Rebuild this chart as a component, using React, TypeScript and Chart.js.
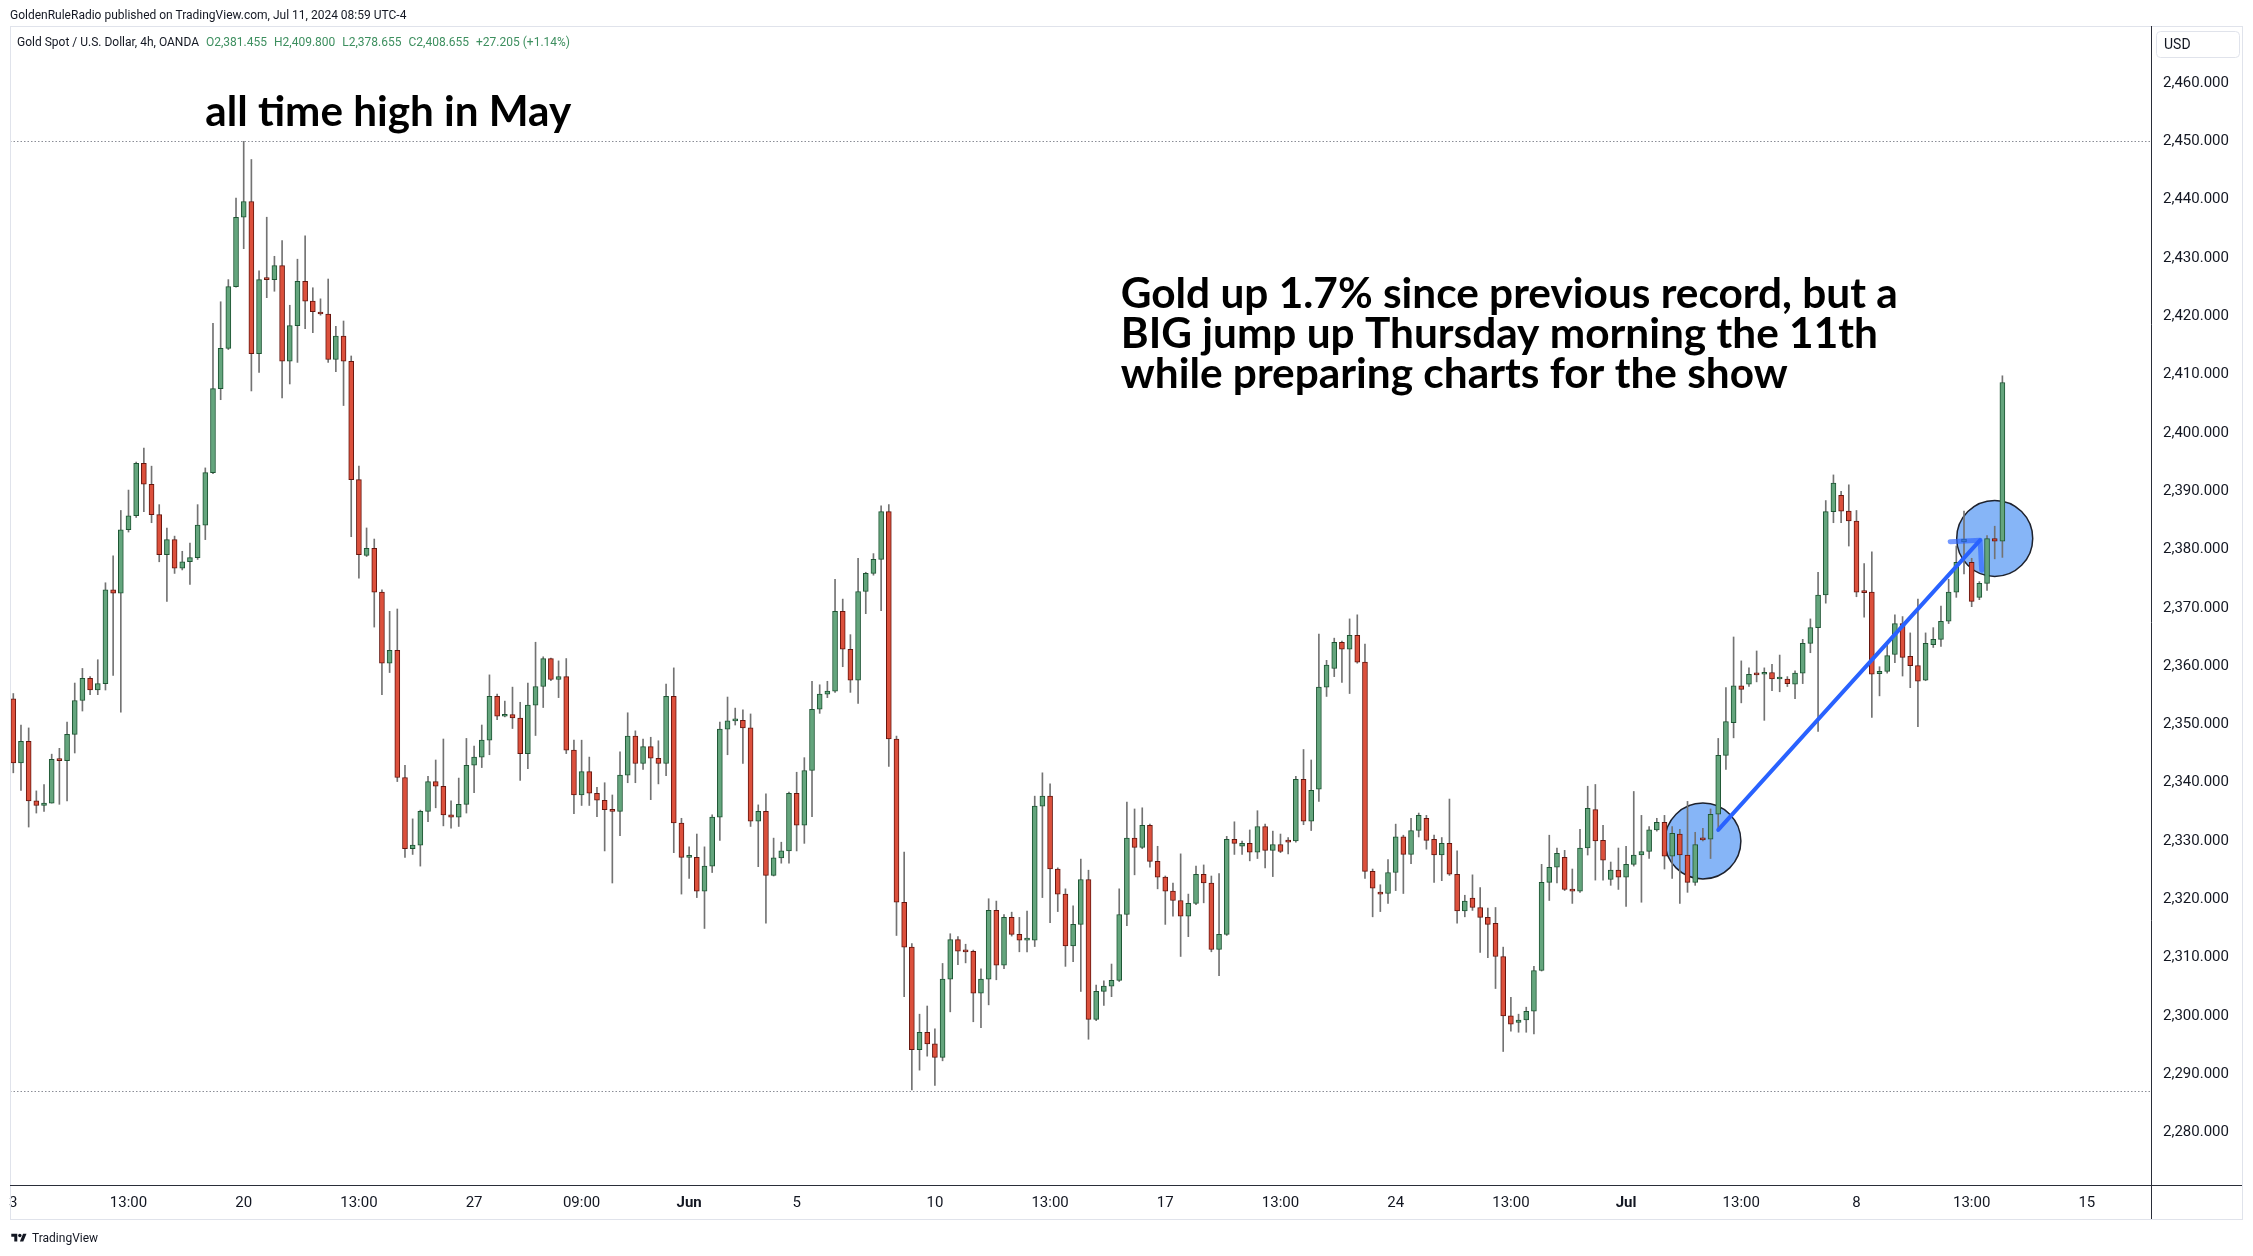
import React, { useEffect, useRef } from 'react';
import Chart from 'chart.js/auto';

// ---- Data (Gold Spot / USD, 4h, OANDA) ----
const OPEN = [
  2354.4, 2343.4, 2347.1, 2336.9, 2336.1, 2336.5, 2344.0, 2343.8, 2348.3, 2354.1,
  2357.9, 2355.9, 2357.0, 2373.1, 2372.5, 2383.4, 2385.8, 2394.8, 2391.2, 2386.0,
  2379.1, 2381.7, 2376.8, 2377.9, 2378.6, 2384.2, 2393.2, 2407.6, 2414.5, 2425.1,
  2437.0, 2439.7, 2413.6, 2426.4, 2426.3, 2428.7, 2412.3, 2418.4, 2426.0, 2422.6,
  2420.7, 2420.4, 2412.6, 2416.6, 2412.3, 2392.0, 2379.0, 2380.2, 2372.7, 2360.5,
  2362.7, 2340.9, 2328.7, 2329.3, 2335.1, 2340.2, 2339.4, 2334.5, 2334.1, 2336.3,
  2343.0, 2344.4, 2347.3, 2354.8, 2351.4, 2351.7, 2351.1, 2345.0, 2353.3, 2356.5,
  2361.3, 2357.7, 2358.2, 2345.6, 2337.9, 2341.9, 2338.2, 2337.0, 2335.4, 2335.1,
  2341.3, 2348.0, 2343.3, 2346.2, 2344.2, 2343.3, 2354.8, 2333.1, 2327.2, 2327.2,
  2321.4, 2325.7, 2334.1, 2349.2, 2350.6, 2350.7, 2349.4, 2333.4, 2335.1, 2324.1,
  2327.1, 2328.3, 2338.2, 2332.7, 2342.1, 2352.6, 2355.2, 2355.7, 2369.4, 2362.9,
  2357.6, 2372.8, 2375.9, 2378.3, 2386.5, 2347.5, 2319.5, 2311.8, 2294.2, 2297.2,
  2295.2, 2292.9, 2306.3, 2313.1, 2311.1, 2311.1, 2303.9, 2306.3, 2318.1, 2308.7,
  2316.9, 2314.0, 2313.0, 2313.0, 2336.0, 2337.7, 2325.2, 2320.9, 2312.0, 2315.7,
  2323.4, 2299.4, 2304.2, 2305.1, 2306.1, 2317.4, 2330.5, 2328.9, 2332.7, 2326.5,
  2323.8, 2321.4, 2319.8, 2317.1, 2319.3, 2324.3, 2322.8, 2311.4, 2314.0, 2330.3,
  2329.1, 2329.6, 2328.1, 2332.5, 2328.4, 2329.4, 2330.1, 2330.0, 2340.6, 2333.4,
  2338.9, 2356.4, 2359.6, 2364.1, 2362.9, 2365.3, 2360.7, 2324.8, 2321.0, 2321.0,
  2324.6, 2330.7, 2327.7, 2331.8, 2333.9, 2330.3, 2327.6, 2329.6, 2324.3, 2318.0,
  2320.2, 2318.6, 2316.9, 2315.9, 2310.2, 2300.0, 2298.9, 2299.3, 2300.8, 2307.8,
  2322.9, 2325.5, 2327.2, 2321.7, 2321.4, 2328.8, 2335.4, 2330.1, 2323.4, 2325.0,
  2323.8, 2326.0, 2327.6, 2328.2, 2331.9, 2333.2, 2327.4, 2331.2, 2327.6, 2322.9,
  2330.3, 2330.3, 2334.6, 2344.7, 2350.3, 2356.6, 2356.9, 2358.6, 2358.6, 2358.9,
  2357.8, 2357.8, 2356.9, 2358.8, 2363.9, 2366.6, 2372.2, 2386.5, 2389.3, 2386.6,
  2384.9, 2372.7, 2372.7, 2358.7, 2359.1, 2362.0, 2367.3, 2361.7, 2360.1, 2357.6,
  2363.7, 2364.6, 2367.7, 2372.7, 2381.3, 2377.8, 2371.8, 2374.2, 2381.9, 2381.455,
];
const HIGH = [
  2355.3, 2349.9, 2349.4, 2338.6, 2339.7, 2344.9, 2345.9, 2350.4, 2357.1, 2359.6,
  2358.2, 2361.1, 2374.3, 2378.9, 2386.7, 2390.2, 2395.0, 2397.4, 2394.3, 2387.7,
  2383.7, 2382.3, 2379.7, 2381.1, 2387.7, 2394.0, 2418.8, 2422.5, 2426.3, 2440.3,
  2450.0, 2446.9, 2427.8, 2437.0, 2430.3, 2433.0, 2421.9, 2429.8, 2433.8, 2424.9,
  2423.0, 2426.4, 2418.3, 2419.2, 2413.2, 2394.3, 2383.7, 2381.8, 2373.1, 2369.4,
  2369.8, 2343.0, 2333.8, 2335.3, 2341.1, 2343.9, 2347.5, 2336.9, 2340.8, 2347.6,
  2346.3, 2349.9, 2358.5, 2355.2, 2354.0, 2356.4, 2353.8, 2357.1, 2364.1, 2361.6,
  2361.4, 2360.9, 2361.3, 2347.3, 2347.3, 2344.4, 2339.2, 2340.0, 2337.9, 2345.3,
  2352.0, 2348.9, 2347.5, 2347.8, 2347.2, 2356.9, 2359.7, 2333.9, 2329.0, 2331.2,
  2329.0, 2334.5, 2350.4, 2354.7, 2352.8, 2352.5, 2351.8, 2336.2, 2338.1, 2330.5,
  2329.8, 2338.4, 2341.8, 2344.3, 2357.4, 2356.8, 2357.4, 2374.9, 2371.5, 2365.4,
  2378.5, 2376.1, 2379.3, 2387.5, 2387.7, 2348.0, 2328.1, 2312.4, 2300.3, 2301.7,
  2297.8, 2309.0, 2314.1, 2313.6, 2312.3, 2311.3, 2308.1, 2320.1, 2319.7, 2317.4,
  2317.8, 2316.9, 2318.0, 2337.7, 2341.7, 2339.8, 2325.4, 2321.8, 2318.9, 2326.9,
  2325.0, 2305.3, 2306.0, 2308.9, 2321.8, 2336.7, 2335.5, 2335.7, 2332.9, 2329.1,
  2324.0, 2322.8, 2327.8, 2320.9, 2325.7, 2325.9, 2324.0, 2324.4, 2330.8, 2333.3,
  2330.0, 2331.9, 2335.2, 2332.9, 2331.7, 2331.2, 2330.6, 2341.1, 2345.7, 2343.9,
  2365.5, 2361.0, 2364.8, 2364.3, 2368.1, 2368.8, 2363.8, 2325.2, 2322.5, 2326.8,
  2332.9, 2331.0, 2333.9, 2334.8, 2334.4, 2331.0, 2330.6, 2337.2, 2328.3, 2320.7,
  2324.2, 2322.0, 2318.5, 2318.6, 2311.8, 2303.2, 2300.3, 2301.5, 2308.5, 2326.0,
  2331.0, 2328.8, 2328.4, 2325.2, 2332.0, 2339.4, 2339.7, 2332.7, 2326.4, 2328.8,
  2329.1, 2338.5, 2334.4, 2332.5, 2333.9, 2334.4, 2332.5, 2332.0, 2336.8, 2331.5,
  2332.2, 2335.5, 2347.6, 2356.3, 2365.0, 2360.9, 2359.7, 2362.6, 2359.7, 2360.3,
  2361.9, 2358.2, 2359.2, 2364.6, 2368.1, 2376.1, 2388.4, 2392.8, 2390.0, 2391.1,
  2386.7, 2377.6, 2379.6, 2359.9, 2363.8, 2368.8, 2368.5, 2365.7, 2371.5, 2365.7,
  2366.6, 2370.3, 2374.9, 2380.6, 2386.6, 2378.5, 2374.5, 2382.4, 2384.0, 2409.8,
];
const LOW = [
  2341.7, 2338.7, 2332.4, 2334.8, 2335.1, 2336.5, 2336.3, 2336.9, 2345.1, 2352.3,
  2355.1, 2355.1, 2355.9, 2358.4, 2352.1, 2383.0, 2385.5, 2386.5, 2384.6, 2377.9,
  2371.1, 2375.9, 2376.5, 2374.0, 2378.3, 2381.7, 2393.0, 2405.7, 2414.3, 2425.0,
  2431.6, 2407.2, 2410.4, 2423.2, 2424.3, 2406.0, 2408.4, 2412.1, 2417.9, 2417.2,
  2420.2, 2412.1, 2410.5, 2404.7, 2382.2, 2375.1, 2378.8, 2366.7, 2355.1, 2358.9,
  2340.2, 2327.2, 2327.7, 2325.7, 2333.3, 2335.7, 2332.6, 2332.2, 2332.5, 2334.8,
  2338.3, 2342.6, 2344.8, 2350.8, 2351.3, 2349.3, 2340.4, 2342.4, 2348.1, 2352.9,
  2357.5, 2354.6, 2345.0, 2334.7, 2336.1, 2336.1, 2334.2, 2328.3, 2322.8, 2330.9,
  2340.0, 2340.0, 2342.3, 2337.1, 2339.8, 2341.2, 2328.0, 2320.9, 2323.6, 2320.3,
  2315.0, 2324.6, 2330.1, 2344.8, 2349.9, 2343.3, 2332.5, 2325.6, 2315.9, 2324.0,
  2326.2, 2326.2, 2328.3, 2329.6, 2334.2, 2351.9, 2354.6, 2355.5, 2359.9, 2355.5,
  2353.6, 2369.0, 2375.6, 2369.5, 2342.8, 2313.8, 2303.3, 2287.3, 2290.7, 2293.1,
  2288.1, 2292.3, 2300.7, 2308.8, 2309.1, 2299.0, 2298.0, 2301.9, 2306.2, 2308.1,
  2313.7, 2311.0, 2311.0, 2311.9, 2320.3, 2316.0, 2317.9, 2308.5, 2309.3, 2304.2,
  2296.0, 2299.2, 2301.8, 2303.3, 2305.9, 2315.5, 2324.2, 2328.7, 2325.5, 2321.8,
  2315.7, 2317.1, 2310.2, 2313.6, 2319.1, 2319.4, 2311.0, 2306.9, 2313.8, 2327.7,
  2327.7, 2326.6, 2327.0, 2325.4, 2323.9, 2328.0, 2327.8, 2329.8, 2332.8, 2331.8,
  2336.8, 2354.8, 2358.2, 2357.2, 2355.3, 2360.5, 2323.6, 2317.0, 2317.9, 2319.3,
  2321.5, 2321.0, 2326.1, 2330.7, 2328.6, 2322.9, 2323.2, 2324.1, 2315.9, 2317.0,
  2318.1, 2310.9, 2310.0, 2304.7, 2293.9, 2297.4, 2297.2, 2297.2, 2296.9, 2307.7,
  2319.8, 2322.8, 2321.5, 2319.3, 2321.2, 2327.6, 2323.3, 2323.3, 2322.4, 2321.7,
  2318.8, 2325.7, 2319.5, 2327.0, 2331.7, 2325.2, 2323.6, 2319.3, 2321.2, 2322.4,
  2330.0, 2327.0, 2331.9, 2342.3, 2347.7, 2353.7, 2356.5, 2357.3, 2350.7, 2355.8,
  2355.6, 2356.5, 2354.4, 2357.0, 2362.3, 2348.8, 2370.8, 2384.6, 2384.6, 2380.6,
  2371.9, 2368.4, 2351.2, 2354.9, 2358.8, 2360.6, 2358.3, 2356.3, 2349.6, 2357.5,
  2363.2, 2363.4, 2367.3, 2371.8, 2375.8, 2370.2, 2371.4, 2373.0, 2378.4, 2378.655,
];
const CLOSE = [
  2343.4, 2347.1, 2336.9, 2336.1, 2336.5, 2344.0, 2343.8, 2348.3, 2354.1, 2357.9,
  2355.9, 2357.0, 2373.1, 2372.5, 2383.4, 2385.8, 2394.8, 2391.2, 2386.0, 2379.1,
  2381.7, 2376.8, 2377.9, 2378.6, 2384.2, 2393.2, 2407.6, 2414.5, 2425.1, 2437.0,
  2439.7, 2413.6, 2426.3, 2426.3, 2428.7, 2412.3, 2418.4, 2426.0, 2422.6, 2420.8,
  2420.4, 2412.6, 2416.6, 2412.3, 2392.0, 2379.1, 2380.2, 2372.7, 2360.5, 2362.7,
  2340.9, 2328.7, 2329.3, 2335.1, 2340.2, 2339.4, 2334.5, 2334.1, 2336.3, 2343.0,
  2344.4, 2347.3, 2354.8, 2351.4, 2351.7, 2351.1, 2345.0, 2353.3, 2356.5, 2361.3,
  2357.7, 2358.2, 2345.6, 2337.9, 2341.9, 2338.2, 2337.0, 2335.4, 2335.1, 2341.3,
  2348.0, 2343.3, 2346.2, 2344.2, 2343.3, 2354.8, 2333.1, 2327.2, 2327.3, 2321.4,
  2325.7, 2334.1, 2349.2, 2350.6, 2350.7, 2349.4, 2333.4, 2335.1, 2324.1, 2327.1,
  2328.3, 2338.2, 2332.7, 2342.1, 2352.6, 2355.2, 2355.7, 2369.4, 2362.9, 2357.6,
  2372.8, 2375.9, 2378.3, 2386.5, 2347.5, 2319.5, 2311.8, 2294.2, 2297.2, 2295.2,
  2292.9, 2306.3, 2313.1, 2311.1, 2311.0, 2303.9, 2306.3, 2318.1, 2308.7, 2316.9,
  2314.0, 2313.0, 2313.1, 2336.0, 2337.7, 2325.2, 2320.9, 2312.0, 2315.7, 2323.4,
  2299.4, 2304.2, 2305.1, 2306.1, 2317.4, 2330.5, 2328.9, 2332.7, 2326.5, 2323.8,
  2321.4, 2319.8, 2317.1, 2319.3, 2324.3, 2322.8, 2311.4, 2314.0, 2330.3, 2329.6,
  2329.6, 2328.1, 2332.5, 2328.4, 2329.4, 2328.2, 2329.8, 2340.6, 2333.4, 2338.7,
  2356.4, 2360.2, 2364.1, 2362.9, 2365.3, 2360.7, 2324.8, 2321.9, 2320.9, 2324.6,
  2330.7, 2327.7, 2331.8, 2334.4, 2330.1, 2327.6, 2329.6, 2324.3, 2318.0, 2319.7,
  2318.6, 2316.9, 2315.7, 2310.2, 2300.0, 2298.6, 2299.3, 2300.8, 2307.8, 2322.9,
  2325.5, 2327.9, 2321.7, 2321.4, 2328.8, 2335.6, 2330.0, 2326.7, 2325.0, 2323.8,
  2326.0, 2327.6, 2328.2, 2331.9, 2333.2, 2327.4, 2331.3, 2327.6, 2322.9, 2329.4,
  2330.2, 2334.6, 2344.7, 2350.5, 2356.6, 2356.0, 2358.6, 2358.5, 2358.9, 2357.8,
  2357.9, 2357.0, 2358.8, 2363.9, 2366.6, 2372.2, 2386.5, 2391.4, 2386.6, 2384.9,
  2372.7, 2372.6, 2358.6, 2359.1, 2361.8, 2367.3, 2361.5, 2360.1, 2357.4, 2363.9,
  2364.6, 2367.7, 2372.7, 2377.8, 2381.8, 2371.1, 2374.2, 2381.9, 2381.45, 2408.655,
];

// x-axis tick positions (bar index) and labels
const X_TICK_INDEX = [0, 15, 30, 45, 60, 74, 88, 102, 120, 135, 150, 165, 180, 195, 210, 225, 240, 255, 270];
const X_TICK_LABELS = ['3', '13:00', '20', '13:00', '27', '09:00', 'Jun', '5', '10', '13:00', '17', '13:00', '24', '13:00', 'Jul', '13:00', '8', '13:00', '15'];
const X_RANGE = [-0.43, 278.35];
const Y_TICKS = [2280, 2290, 2300, 2310, 2320, 2330, 2340, 2350, 2360, 2370, 2380, 2390, 2400, 2410, 2420, 2430, 2440, 2450, 2460];
const Y_RANGE = [2271.0, 2469.8];

// drawings (in data coordinates: bar index, price)
const H_LEVELS = [2450.0, 2287.1];
const CIRCLES = [{ x: 220.0, y: 2330.0 }, { x: 258.0, y: 2381.9 }];
const ARROW = { from: { x: 222.0, y: 2331.9 }, to: { x: 256.1, y: 2381.6 } };
const NOTE_ATH = { x: 25.0, y: 2452.7, lines: ['all time high in May'] };
const NOTE_JUMP = {
  x: 144.2,
  y: 2421.4,
  lines: [
    'Gold up 1.7% since previous record, but a',
    'BIG jump up Thursday morning the 11th',
    'while preparing charts for the show',
  ],
};

const UP_FILL = '#64a57d';
const UP_LINE = '#1d5533';
const DOWN_FILL = '#dc503c';
const DOWN_LINE = '#66160f';
const WICK = '#737373';
const TEXT = '#131722';
const FRAME_LIGHT = '#e0e3eb';
const FRAME_DARK = '#2a2e39';
const UI_FONT = 'Roboto, "Liberation Sans", sans-serif';
const NOTE_FONT = 'Lato, "Noto Sans", sans-serif';

const fmt = (v: number) =>
  v.toLocaleString('en-US', { minimumFractionDigits: 3, maximumFractionDigits: 3 });

const overlayPlugin = {
  id: 'overlay',
  beforeDatasetsDraw(chart: any) {
    const { ctx, chartArea: a, scales } = chart;
    const xs = scales.x;
    const ys = scales.y;
    ctx.save();
    ctx.strokeStyle = '#8a8d96';
    ctx.lineWidth = 1;
    ctx.setLineDash([1.5, 2]);
    for (const lv of H_LEVELS) {
      const py = Math.round(ys.getPixelForValue(lv)) + 0.5;
      ctx.beginPath();
      ctx.moveTo(a.left, py);
      ctx.lineTo(a.right, py);
      ctx.stroke();
    }
    ctx.setLineDash([]);
    for (const c of CIRCLES) {
      ctx.beginPath();
      ctx.arc(xs.getPixelForValue(c.x), ys.getPixelForValue(c.y), 38, 0, Math.PI * 2);
      ctx.fillStyle = '#86b5f7';
      ctx.fill();
      ctx.lineWidth = 1.5;
      ctx.strokeStyle = '#1e222d';
      ctx.stroke();
    }
    ctx.restore();
  },
  afterDatasetsDraw(chart: any) {
    const { ctx, scales } = chart;
    const xs = scales.x;
    const ys = scales.y;
    ctx.save();
    // arrow
    const x0 = xs.getPixelForValue(ARROW.from.x);
    const y0 = ys.getPixelForValue(ARROW.from.y);
    const x1 = xs.getPixelForValue(ARROW.to.x);
    const y1 = ys.getPixelForValue(ARROW.to.y);
    ctx.lineCap = 'round';
    ctx.strokeStyle = '#2962ff';
    ctx.lineWidth = 4;
    ctx.beginPath();
    ctx.moveTo(x0, y0);
    ctx.lineTo(x1, y1);
    ctx.stroke();
    const back = Math.atan2(y0 - y1, x0 - x1);
    ctx.strokeStyle = 'rgba(41,98,255,0.65)';
    ctx.lineWidth = 5;
    ctx.beginPath();
    for (const d of [-Math.PI / 4, Math.PI / 4]) {
      ctx.moveTo(x1, y1);
      ctx.lineTo(x1 + 30 * Math.cos(back + d), y1 + 30 * Math.sin(back + d));
    }
    ctx.stroke();

    // notes
    const drawNote = (note: any, targetWidth: number) => {
      ctx.font = `700 100px ${NOTE_FONT}`;
      const w = ctx.measureText(note.lines[0]).width;
      const size = (100 * targetWidth) / w;
      ctx.font = `700 ${size.toFixed(2)}px ${NOTE_FONT}`;
      ctx.fillStyle = '#000000';
      ctx.textAlign = 'left';
      ctx.textBaseline = 'alphabetic';
      const px = xs.getPixelForValue(note.x);
      const py = ys.getPixelForValue(note.y);
      note.lines.forEach((ln: string, i: number) => ctx.fillText(ln, px, py + i * 40));
    };
    drawNote(NOTE_ATH, 366);
    drawNote(NOTE_JUMP, 777);
    ctx.restore();
  },
  afterDraw(chart: any) {
    const { ctx, chartArea: a } = chart;
    const right = chart.width - 11;
    const bottom = chart.height - 37;
    ctx.save();
    ctx.lineWidth = 1;
    ctx.strokeStyle = FRAME_LIGHT;
    ctx.strokeRect(a.left + 0.5, a.top + 0.5, right - a.left, bottom - a.top);
    ctx.strokeStyle = FRAME_DARK;
    ctx.beginPath();
    ctx.moveTo(Math.round(a.right) + 0.5, a.top);
    ctx.lineTo(Math.round(a.right) + 0.5, bottom);
    ctx.moveTo(a.left, Math.round(a.bottom) + 0.5);
    ctx.lineTo(right, Math.round(a.bottom) + 0.5);
    ctx.stroke();
    // currency box
    const bx = a.right + 5;
    const by = a.top + 5;
    ctx.strokeStyle = FRAME_LIGHT;
    ctx.beginPath();
    ctx.roundRect(bx + 0.5, by + 0.5, 83, 26, 4);
    ctx.stroke();
    ctx.fillStyle = TEXT;
    ctx.font = `14px ${UI_FONT}`;
    ctx.textBaseline = 'middle';
    ctx.textAlign = 'left';
    ctx.fillText('USD', bx + 8, by + 14);
    ctx.restore();
  },
};

export default function App() {
  const ref = useRef<HTMLCanvasElement>(null);

  useEffect(() => {
    if (!ref.current) return;
    const idx = OPEN.map((_, i) => i);
    const up = idx.map((i) => CLOSE[i] >= OPEN[i]);
    const chart = new Chart(ref.current, {
      type: 'bar',
      data: {
        datasets: [
          {
            data: idx.map((i) => ({
              x: i,
              y: [Math.min(LOW[i], OPEN[i], CLOSE[i]), Math.max(HIGH[i], OPEN[i], CLOSE[i])],
            })),
            backgroundColor: WICK,
            borderWidth: 0,
            barThickness: 1,
            grouped: false,
            order: 2,
          } as any,
          {
            data: idx.map((i) => ({ x: i, y: [OPEN[i], CLOSE[i]] })),
            backgroundColor: idx.map((i) => (up[i] ? UP_FILL : DOWN_FILL)),
            borderColor: idx.map((i) => (up[i] ? UP_LINE : DOWN_LINE)),
            borderWidth: 1,
            borderSkipped: false,
            barThickness: 5,
            minBarLength: 2,
            grouped: false,
            order: 1,
          } as any,
        ],
      },
      options: {
        responsive: false,
        animation: false,
        devicePixelRatio: 1,
        layout: { padding: { left: 10, top: 26, right: 11, bottom: 37 } },
        plugins: { legend: { display: false }, tooltip: { enabled: false } },
        scales: {
          x: {
            type: 'linear',
            min: X_RANGE[0],
            max: X_RANGE[1],
            offset: false,
            grid: { display: false, drawTicks: false },
            border: { display: false },
            afterBuildTicks: (s: any) => {
              s.ticks = X_TICK_INDEX.map((v) => ({ value: v }));
            },
            afterFit: (s: any) => {
              s.height = 34;
            },
            ticks: {
              autoSkip: false,
              maxRotation: 0,
              minRotation: 0,
              padding: 9,
              color: TEXT,
              font: (c: any) => ({
                family: UI_FONT,
                size: 15,
                weight: /^[A-Za-z]+$/.test(X_TICK_LABELS[c.index] || '') ? 'bold' : 'normal',
              }),
              callback: (_v: any, i: number) => X_TICK_LABELS[i],
            },
          },
          y: {
            type: 'linear',
            position: 'right',
            min: Y_RANGE[0],
            max: Y_RANGE[1],
            grid: { display: false, drawTicks: false },
            border: { display: false },
            afterBuildTicks: (s: any) => {
              s.ticks = Y_TICKS.map((v) => ({ value: v }));
            },
            afterFit: (s: any) => {
              s.width = 91;
            },
            ticks: {
              autoSkip: false,
              padding: 12,
              color: TEXT,
              font: { family: UI_FONT, size: 15 },
              callback: (v: any) => fmt(Number(v)),
            },
          },
        },
      } as any,
      plugins: [overlayPlugin],
    });
    return () => chart.destroy();
  }, []);

  const n = CLOSE.length - 1;
  const chg = CLOSE[n] - CLOSE[n - 1];
  const pct = (chg / CLOSE[n - 1]) * 100;
  const legendGreen = '#3d8f5f';
  const items = [
    `O${fmt(OPEN[n])}`,
    `H${fmt(HIGH[n])}`,
    `L${fmt(LOW[n])}`,
    `C${fmt(CLOSE[n])}`,
    `${chg >= 0 ? '+' : ''}${fmt(chg)} (${chg >= 0 ? '+' : ''}${pct.toFixed(2)}%)`,
  ];

  return (
    <div style={{ position: 'absolute', left: 0, top: 0, width: 2253, height: 1256, background: '#ffffff', overflow: 'hidden' }}>
      <canvas ref={ref} width={2253} height={1256} style={{ position: 'absolute', left: 0, top: 0, display: 'block' }} />
      <div style={{ position: 'absolute', left: 10, top: 8, font: `12px ${UI_FONT}`, color: TEXT, whiteSpace: 'nowrap' }}>
        GoldenRuleRadio published on TradingView.com, Jul 11, 2024 08:59 UTC-4
      </div>
      <div style={{ position: 'absolute', left: 17, top: 35, font: `12px ${UI_FONT}`, color: TEXT, whiteSpace: 'nowrap' }}>
        <span>Gold Spot / U.S. Dollar, 4h, OANDA</span>
        {items.map((t, i) => (
          <span key={i} style={{ color: legendGreen, marginLeft: 7 }}>{t}</span>
        ))}
      </div>
      <div style={{ position: 'absolute', left: 10, top: 1231, font: `12px ${UI_FONT}`, color: TEXT, whiteSpace: 'nowrap', display: 'flex', alignItems: 'center' }}>
        <svg width="18" height="12" viewBox="0 0 36 28" style={{ marginRight: 4 }}>
          <path d="M14 22H7V11H0V4h14v18z" fill={TEXT} />
          <path d="M28 22h-8l7.5-18h8L28 22z" fill={TEXT} />
          <circle cx="20" cy="8" r="4" fill={TEXT} />
        </svg>
        <span>TradingView</span>
      </div>
    </div>
  );
}
